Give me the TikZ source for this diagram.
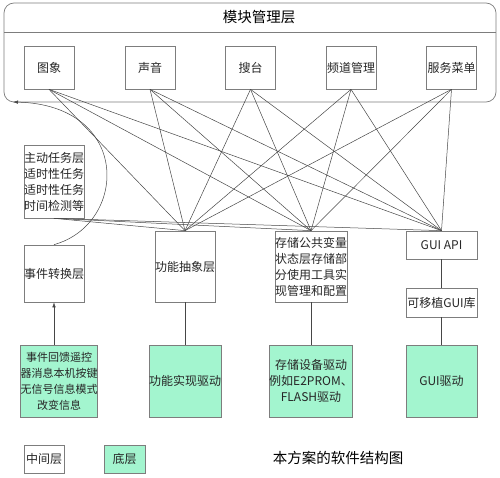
\documentclass[tikz,border=0pt]{standalone}
\usepackage{fontspec}
\setmainfont{Noto Sans CJK SC}
\usetikzlibrary{arrows.meta}
\definecolor{mint}{RGB}{163,245,207}
\definecolor{boxgray}{RGB}{125,125,125}
\definecolor{linegray}{RGB}{70,70,70}
\tikzset{
  box/.style={draw=boxgray, line width=0.7pt, rectangle, inner sep=0pt, align=center,
    font=\fontsize{12}{16}\selectfont, text=black!85},
  low/.style={box, fill=mint},
  conn/.style={draw=linegray, line width=0.5pt},
  harrow/.style={conn, -{Latex[length=5pt,width=3.5pt]}}
}
\begin{document}
\begin{tikzpicture}[x=1pt,y=-1pt]
\useasboundingbox (0,0) rectangle (500,478);
% outer module-management frame
\draw[draw=boxgray, line width=0.7pt, rounded corners=10pt] (4,3) rectangle (496,102);
\draw[draw=boxgray, line width=0.7pt] (4,32) -- (496,32);
\node[font=\fontsize{14.5}{16}\selectfont] (title) at (259,17) {模块管理层};
% module boxes
\node[box, minimum width=50pt, minimum height=43pt] (m1) at (49,67.5) {图象};
\node[box, minimum width=50pt, minimum height=43pt] (m2) at (150,67.5) {声音};
\node[box, minimum width=50pt, minimum height=43pt] (m3) at (250.5,67.5) {搜台};
\node[box, minimum width=50pt, minimum height=43pt] (m4) at (351,67.5) {频道管理};
\node[box, minimum width=50pt, minimum height=43pt] (m5) at (451.5,67.5) {服务菜单};
% middle layer
\node[box, minimum width=60pt, minimum height=73pt] (act) at (54,181.5) {主动任务层\\适时性任务\\适时性任务\\时间检测等};
\node[box, minimum width=60pt, minimum height=57pt] (evt) at (54,273.5) {事件转换层};
\node[box, minimum width=60pt, minimum height=71pt] (fab) at (185,266.5) {功能抽象层};
\node[box, minimum width=70pt, minimum height=71pt] (sto) at (311,266.5) {存储公共变量\\状态层存储部\\分使用工具实\\现管理和配置};
\node[box, minimum width=71pt, minimum height=28pt] (gapi) at (441.5,245) {GUI API};
\node[box, minimum width=71pt, minimum height=29pt] (glib) at (441.5,302.5) {可移植GUI库};
% bottom layer
\node[low, minimum width=70pt, minimum height=72pt, font=\fontsize{11}{16}\selectfont] (esrc) at (59,381) {事件回馈遥控\\器消息本机按键\\无信号信息模式\\改变信息};
\node[low, minimum width=60pt, minimum height=72pt] (fdrv) at (185,381) {功能实现驱动};
\node[low, minimum width=70pt, minimum height=72pt] (sdrv) at (311,381) {存储设备驱动\\例如E2PROM、\\FLASH驱动};
\node[low, minimum width=71pt, minimum height=72pt] (gdrv) at (441.5,381) {GUI驱动};
% legend
\node[box, minimum width=40pt, minimum height=28pt] (lg1) at (44,459) {中间层};
\node[low, minimum width=41pt, minimum height=28pt] (lg2) at (124.5,459) {底层};
\node[font=\fontsize{14.5}{16}\selectfont] (cap) at (338,458) {本方案的软件结构图};
% mesh of connectors
\foreach \m in {m1,m2,m3,m4,m5,act}{
  \foreach \t in {fab,sto,gapi}{
    \draw[conn] (\m.south |- \m.south) -- (\t.north);
  }
}
% vertical links
\draw[conn] (fab.south) -- (fdrv.north);
\draw[conn] (sto.south) -- (sdrv.north);
\draw[conn] (gapi.south) -- (glib.north);
\draw[conn] (glib.south) -- (gdrv.north);
\draw[harrow] (esrc.north -| evt.south) -- (evt.south);
% curved arrow from event layer to module layer
\coordinate (tip) at (13,102);
\draw[harrow] (evt.north) .. controls (128,224) and (132,105) .. (tip);
\end{tikzpicture}
\end{document}
